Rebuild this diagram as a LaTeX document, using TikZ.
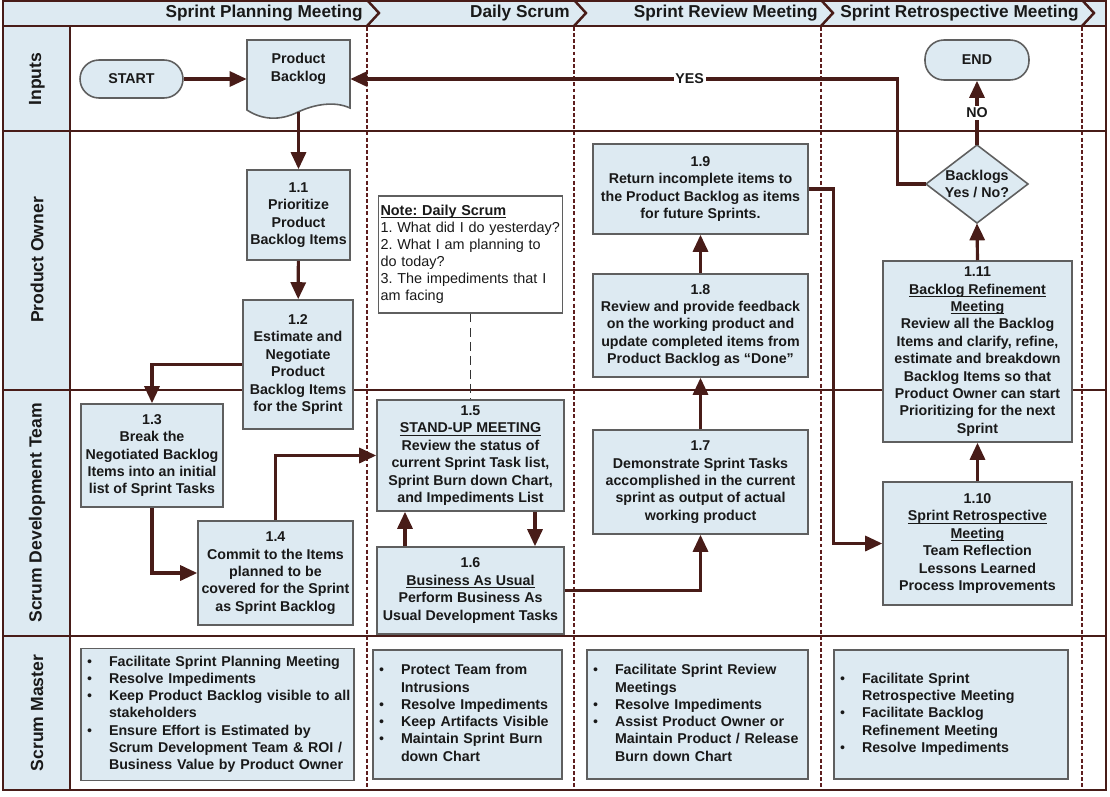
\documentclass[tikz,border=0pt]{standalone}
\usepackage{fontspec}
\setmainfont{Liberation Sans}
\usetikzlibrary{arrows.meta,calc}
\definecolor{linec}{RGB}{72,28,24}
\definecolor{boxfill}{RGB}{221,234,242}
\definecolor{boxdraw}{RGB}{95,95,95}
\definecolor{dashc}{RGB}{95,30,30}
\definecolor{txtc}{RGB}{25,25,25}
\newcommand\smtab[1]{\begin{tabular}{@{}p{0.44cm}@{}l@{}}#1\end{tabular}}
\newcommand\bul{{\mdseries\textbullet}}
\newcommand\ul[1]{\setbox0\hbox{#1}\rlap{\rule[-1.5pt]{\wd0}{0.55pt}}\box0}
\frenchspacing
\begin{document}
\begin{tikzpicture}[x=0.02cm,y=-0.02cm,
  procbox/.style={draw=boxdraw, fill=boxfill, line width=0.9pt, align=center, text=txtc,
    font=\bfseries\fontsize{8.1}{9.9}\selectfont, inner sep=1pt},
  boxtext/.style={align=center, text=txtc, font=\bfseries\fontsize{8.1}{9.9}\selectfont, inner sep=0pt},
  notebox/.style={draw=boxdraw, fill=white, line width=0.8pt, align=left, text=txtc,
    font=\fontsize{8.2}{9.7}\selectfont, inner xsep=1pt, text width=3.6cm},
  smbox/.style={draw=boxdraw, fill=boxfill, line width=0.9pt, align=left, text=txtc,
    font=\bfseries\fontsize{8.1}{9.8}\selectfont, inner xsep=0.12cm},
  arr/.style={draw=linec, line width=1.8pt, -{Triangle[length=0.34cm,width=0.30cm]}},
  lane/.style={draw=linec, line width=1.3pt},
  sepline/.style={draw=dashc, line width=1.4pt, dash pattern=on 2.2pt off 1.3pt},
  chev/.style={draw=linec, line width=1.4pt},
  hdr/.style={anchor=east, text=txtc, font=\bfseries\fontsize{9.8}{11}\selectfont, inner sep=0pt},
  lanelbl/.style={rotate=90, text=txtc, font=\bfseries\fontsize{10}{12}\selectfont},
  lbl/.style={fill=white, inner sep=1pt, text=txtc, font=\bfseries\fontsize{8.1}{9.9}\selectfont}]
\useasboundingbox (0,0) rectangle (1110,796);
% background bands
\fill[boxfill] (3,1) rectangle (1106,26);
\fill[boxfill] (3,26) rectangle (70,790);
\draw[lane] (3,1) rectangle (1106,790);
\draw[lane] (3,26) -- (1106,26);
\draw[lane] (3,131) -- (1106,131);
\draw[lane] (3,390) -- (1106,390);
\draw[lane] (3,636) -- (1106,636);
\draw[lane] (70,26) -- (70,790);
% phase separators
\foreach \xx in {367,574,821,1082}{
  \draw[sepline] (\xx,27) -- (\xx,789);
  \draw[chev] (\xx,0) -- (\xx+12,13) -- (\xx,26);
}
% headers
\node[hdr] (h1) at (363,13) {Sprint Planning Meeting};
\node[hdr] (h2) at (570,13) {Daily Scrum};
\node[hdr] (h3) at (818,13) {Sprint Review Meeting};
\node[hdr] (h4) at (1079,13) {Sprint Retrospective Meeting};
% lane labels
\node[lanelbl] (l1) at (37,79) {Inputs};
\node[lanelbl] (l2) at (37,260) {Product Owner};
\node[lanelbl] (l3) at (37,513) {Scrum Development Team};
\node[lanelbl] (l4) at (37,713) {Scrum Master};
% inputs
\node[procbox, rounded corners=0.38cm, minimum width=2.06cm, minimum height=0.76cm] (start) at (131.5,79) {START};
\filldraw[draw=boxdraw, fill=boxfill, line width=0.9pt] (247,40) -- (350,40) -- (350,108)
  .. controls (335,101) and (315,104) .. (298,112)
  .. controls (280,121) and (262,120) .. (247,110) -- cycle;
\node[minimum width=2.06cm, minimum height=1.44cm, inner sep=0pt] (pb) at (298.5,76) {};
\node[boxtext] (pbt) at (298.5,69) {Product\\Backlog};
\node[procbox, rounded corners=0.38cm, minimum width=2.08cm, minimum height=0.80cm] (end) at (977,60) {END};
% product owner
\node[procbox, minimum width=2.06cm, minimum height=1.80cm] (b11) at (298.5,215) {1.1\\Prioritize\\Product\\Backlog Items};
\node[procbox, minimum width=2.20cm, minimum height=2.58cm] (b12) at (298,364.5) {1.2\\Estimate and\\Negotiate\\Product\\Backlog Items\\for the Sprint};
\node[notebox, minimum width=3.66cm, minimum height=2.34cm] (note) at (470.5,254.5) {\textbf{\ul{Note: Daily Scrum}}\\1. What did I do yesterday?\\2. What I am planning to\\do today?\\3. The impediments that I\\am facing};
\node[procbox, minimum width=4.30cm, minimum height=1.80cm] (b19) at (700.5,189) {1.9\\Return incomplete items to\\the Product Backlog as items\\for future Sprints.};
\node[procbox, minimum width=4.30cm, minimum height=2.06cm] (b18) at (700.5,325.5) {1.8\\Review and provide feedback\\on the working product and\\update completed items from\\Product Backlog as “Done”};
\filldraw[draw=boxdraw, fill=boxfill, line width=0.9pt] (977,145) -- (1028,184) -- (977,223) -- (926,184) -- cycle;
\node[boxtext, minimum width=2.04cm, minimum height=1.56cm] (dia) at (977,184) {Backlogs\\Yes / No?};
\node[procbox, minimum width=3.78cm, minimum height=3.62cm] (b111) at (977.5,351.5) {1.11\\\ul{Backlog Refinement}\\\ul{Meeting}\\Review all the Backlog\\Items and clarify, refine,\\estimate and breakdown\\Backlog Items so that\\Product Owner can start\\Prioritizing for the next\\Sprint};
% scrum development team
\node[procbox, minimum width=2.84cm, minimum height=2.06cm] (b13) at (152,455.5) {1.3\\Break the\\Negotiated Backlog\\Items into an initial\\list of Sprint Tasks};
\node[procbox, minimum width=3.10cm, minimum height=2.08cm] (b14) at (275.5,573) {1.4\\Commit to the Items\\planned to be\\covered for the Sprint\\as Sprint Backlog};
\node[procbox, minimum width=3.74cm, minimum height=2.22cm] (b15) at (470.5,455.5) {1.5\\\ul{STAND-UP MEETING}\\Review the status of\\current Sprint Task list,\\Sprint Burn down Chart,\\and Impediments List};
\node[procbox, minimum width=3.74cm, minimum height=1.74cm] (b16) at (470.5,590.5) {1.6\\\ul{Business As Usual}\\Perform Business As\\Usual Development Tasks};
\node[procbox, minimum width=4.30cm, minimum height=2.08cm] (b17) at (700.5,482) {1.7\\Demonstrate Sprint Tasks\\accomplished in the current\\sprint as output of actual\\working product};
\node[procbox, minimum width=3.78cm, minimum height=2.46cm] (b110) at (977.5,543.5) {1.10\\\ul{Sprint Retrospective}\\\ul{Meeting}\\Team Reflection\\Lessons Learned\\Process Improvements};
% scrum master
\node[smbox, minimum width=5.46cm, minimum height=2.58cm, text width=5.22cm] (sm1) at (217.5,714.5) {\smtab{\bul & Facilitate Sprint Planning Meeting\\ \bul & Resolve Impediments\\ \bul & Keep Product Backlog visible to all\\ & stakeholders\\ \bul & Ensure Effort is Estimated by\\ & Scrum Development Team \& ROI /\\ & Business Value by Product Owner}};
\node[smbox, minimum width=3.78cm, minimum height=2.58cm, text width=3.54cm] (sm2) at (467.5,714.5) {\smtab{\bul & Protect Team from\\ & Intrusions\\ \bul & Resolve Impediments\\ \bul & Keep Artifacts Visible\\ \bul & Maintain Sprint Burn\\ & down Chart}};
\node[smbox, minimum width=4.42cm, minimum height=2.58cm, text width=4.18cm] (sm3) at (697.5,714.5) {\smtab{\bul & Facilitate Sprint Review\\ & Meetings\\ \bul & Resolve Impediments\\ \bul & Assist Product Owner or\\ & Maintain Product / Release\\ & Burn down Chart}};
\node[smbox, minimum width=4.68cm, minimum height=2.58cm, text width=4.44cm] (sm4) at (951,714.5) {\smtab{\bul & Facilitate Sprint\\ & Retrospective Meeting\\ \bul & Facilitate Backlog\\ & Refinement Meeting\\ \bul & Resolve Impediments}};
% connectors
\draw[arr] (start) -- (start.center -| pb.west);
\draw[arr] (pb.south) -- (b11.north);
\draw[arr] (b11) -- (b12);
\draw[arr] (b12.west) -| (b13.north);
\draw[arr] (b13.south) |- (b14.west);
\draw[arr] (b14.north) |- (b15.west);
\draw[draw=black!80, line width=0.9pt, dash pattern=on 5pt off 3pt] (note.south) -- (b15.north);
\draw[arr] ($(b15.south)+(64.5,0)$) -- ($(b16.north)+(64.5,0)$);
\draw[arr] ($(b16.north)+(-65.5,0)$) -- ($(b15.south)+(-65.5,0)$);
\draw[arr] (b16.east) -| (b17.south);
\draw[arr] (b17) -- (b18);
\draw[arr] (b18) -- (b19);
\draw[arr] (b19.east) -- ++(25,0) |- (b110.west);
\draw[arr] (b110) -- (b111);
\draw[arr] (b111.north) -- (dia.south);
\draw[arr] (dia.north) -- node[lbl] {NO} (end.south);
\draw[arr] (dia.west) -- ++(-28,0) |- node[lbl, pos=0.69] {YES} (start.center -| pb.east);
\end{tikzpicture}
\end{document}
